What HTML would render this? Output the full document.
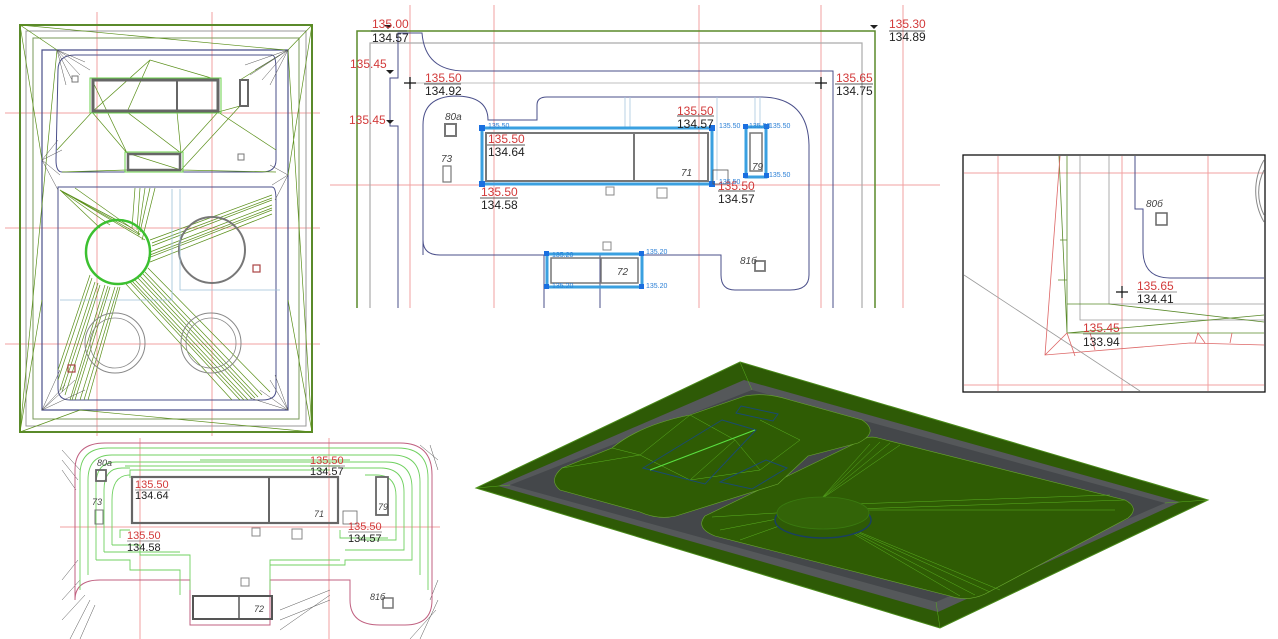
<!DOCTYPE html>
<html><head><meta charset="utf-8"><style>
html,body{margin:0;padding:0;background:#fff;width:1278px;height:639px;overflow:hidden}
svg{display:block}
text{font-family:"Liberation Sans",sans-serif}
.r{fill:#d23a3a}.k{fill:#222}.b{fill:#2a7fd6}
</style></head><body>
<svg width="1278" height="639" viewBox="0 0 1278 639" xmlns="http://www.w3.org/2000/svg">
<!-- ============ TOP LEFT PANEL ============ -->
<g fill="none">
 <g stroke="#f2a0a0" stroke-width="1">
  <line x1="97" y1="12" x2="97" y2="436"/><line x1="212" y1="12" x2="212" y2="436"/>
  <line x1="5" y1="113" x2="320" y2="113"/><line x1="5" y1="228" x2="320" y2="228"/><line x1="5" y1="344" x2="320" y2="344"/>
 </g>
 <rect x="20" y="25" width="292" height="407" stroke="#5a8a2a" stroke-width="2"/>
 <rect x="26" y="31" width="280" height="395" stroke="#999" stroke-width="1"/>
 <rect x="33" y="38" width="266" height="381" stroke="#7a9a5a" stroke-width="1"/>
 <path d="M42 50 H288 V410 H42 Z" stroke="#4a4f8a" stroke-width="1.2"/>
 <path d="M58 70 Q58 55 75 55 H272 Q276 55 276 70 V160 Q276 172 262 172 H62 Q56 172 56 160 Z" stroke="#4a4f8a" stroke-width="1"/>
 <path d="M58 187 H272 Q276 187 276 200 V390 Q276 400 262 400 H70 Q58 400 58 388 Z" stroke="#4a4f8a" stroke-width="1"/>
 <g stroke="#5a8f1a" stroke-width="0.7">
  <path d="M20 25 L57 50 L20 432 M312 25 L288 50 L312 432 M20 432 L80 410 L312 432 M20 25 L285 50 M20 25 L42 160 M312 25 L288 175 M20 432 L42 300 M312 432 L288 300"/>
  <path d="M57 150 L92 112 L127 153 L92 80 M127 153 L181 170 L240 106 L218 112 L181 153 L127 112 M92 112 L150 60 L218 80 M240 80 L280 55 M62 172 L127 170 M181 170 L276 172 M127 112 L150 60 M177 112 L181 153 M218 112 L276 150"/>
  <path d="M60 190 L140 235 M60 190 L145 240 M60 190 L132 228 M60 190 L120 222 M60 190 L110 225 M60 190 L100 228 M75 188 L140 234 M140 188 L137 230 M150 188 L140 232 M155 188 L142 240 M145 188 L138 236 M135 188 L132 228"/>
  <path d="M272 195 L150 240 M272 200 L152 246 M272 205 L150 252 M272 210 L148 258 M272 214 L150 262 M272 198 L152 243 M272 208 L150 255"/>
  <path d="M95 282 L60 390 M100 285 L65 395 M105 285 L70 400 M110 287 L75 400 M115 287 L80 400 M120 287 L88 400 M92 278 L58 380 M98 283 L62 392 M108 286 L72 400 M118 287 L84 400 M90 275 L58 370"/>
  <path d="M130 282 L240 400 M135 280 L248 400 M140 276 L255 398 M145 272 L262 395 M148 268 L270 392 M126 284 L232 400 M132 281 L244 400 M138 278 L252 399 M143 274 L258 397"/>
 </g>
 <g stroke="#555" stroke-width="0.5">
  <path d="M57 50 L80 75 M57 50 L90 70 M57 50 L85 62 M57 50 L72 80 M57 50 L66 85 M288 50 L250 75 M288 50 L255 70 M288 50 L262 80 M288 50 L270 85 M288 50 L245 65"/>
  <path d="M42 410 L75 380 M42 410 L65 385 M42 410 L85 390 M42 410 L60 370 M288 410 L270 380 M288 410 L260 390 M288 410 L275 375 M288 410 L250 398"/>
  <path d="M42 160 L62 150 M42 160 L60 175 M42 160 L58 190 M42 160 L58 140 M288 175 L270 165 M288 175 L272 185 M288 175 L275 200"/>
 </g>
 <rect x="93" y="80" width="125" height="31" stroke="#666" stroke-width="3"/>
 <line x1="177" y1="80" x2="177" y2="111" stroke="#666" stroke-width="2"/>
 <rect x="90" y="78" width="131" height="35" stroke="#6ad04a" stroke-width="1"/>
 <rect x="240" y="80" width="8" height="26" stroke="#666" stroke-width="2"/>
 <rect x="128" y="154" width="52" height="16" stroke="#666" stroke-width="2.5"/>
 <rect x="125" y="152" width="58" height="20" stroke="#6ad04a" stroke-width="1"/>
 <circle cx="118" cy="252" r="32" stroke="#3cc030" stroke-width="2.5"/>
 <circle cx="212" cy="250" r="33" stroke="#777" stroke-width="2"/>
 <circle cx="115" cy="343" r="30" stroke="#888" stroke-width="1"/><circle cx="115" cy="343" r="25" stroke="#888" stroke-width="0.8"/>
 <circle cx="211" cy="343" r="30" stroke="#888" stroke-width="1"/><circle cx="211" cy="343" r="25" stroke="#888" stroke-width="0.8"/>
 <path d="M172 189 V300 H60 M180 189 V290 H280" stroke="#9cc0d8" stroke-width="0.8"/>
 <rect x="253" y="265" width="7" height="7" stroke="#a44" stroke-width="1.2"/>
 <rect x="68" y="365" width="7" height="7" stroke="#a44" stroke-width="1.2"/>
 <rect x="72" y="76" width="6" height="6" stroke="#777"/><rect x="238" y="154" width="6" height="6" stroke="#777"/>
</g>
<!-- ============ TOP MIDDLE PANEL ============ -->
<g fill="none">
 <g stroke="#f2a0a0" stroke-width="1">
  <line x1="410" y1="5" x2="410" y2="308"/><line x1="494" y1="5" x2="494" y2="308"/><line x1="699" y1="5" x2="699" y2="308"/><line x1="821" y1="5" x2="821" y2="308"/><line x1="903" y1="5" x2="903" y2="308"/>
  <line x1="330" y1="185" x2="940" y2="185"/>
 </g>
 <path d="M357 308 V31 H875 V308" stroke="#5a8a2a" stroke-width="1.5"/>
 <path d="M370 308 V43 H862 V308" stroke="#aaa" stroke-width="1.2"/>
 <line x1="410" y1="83" x2="821" y2="83" stroke="#aaa" stroke-width="0.8"/>
 <path d="M398 308 V126 H390 V78 H398 V33 H422 Q425 71 465 71 H833 V308" stroke="#4a4f8a" stroke-width="1"/>
 <path d="M423 255 V125 Q423 97 455 96 Q488 96 488 120 H537 V105 Q537 97 547 97 H760 Q808 97 809 145 V275 Q809 290 790 290 H735 Q721 290 721 275 V255 H600 V308 M544 308 V255 H440 Q423 255 423 240" stroke="#4a4f8a" stroke-width="1"/>
 <g stroke="#a8c8e0" stroke-width="0.8"><path d="M625 97 V128 M630 97 V128 M717 97 V180 M755 97 V128 M760 97 V128"/></g>
 <rect x="482" y="128" width="230" height="56" stroke="#3aa0e0" stroke-width="3"/>
 <rect x="486" y="133" width="222" height="48" stroke="#777" stroke-width="2"/>
 <line x1="634" y1="133" x2="634" y2="181" stroke="#777" stroke-width="2"/>
 <rect x="746" y="127" width="20" height="50" stroke="#3aa0e0" stroke-width="3"/>
 <rect x="750" y="133" width="12" height="38" stroke="#777" stroke-width="1.5"/>
 <rect x="547" y="254" width="95" height="33" stroke="#3aa0e0" stroke-width="3"/>
 <rect x="551" y="258" width="87" height="25" stroke="#777" stroke-width="1.5"/>
 <line x1="601" y1="258" x2="601" y2="283" stroke="#777" stroke-width="1.5"/>
 <g fill="#1a6fe0" stroke="none">
  <rect x="479" y="125" width="6" height="6"/><rect x="709" y="125" width="6" height="6"/><rect x="479" y="181" width="6" height="6"/><rect x="709" y="181" width="6" height="6"/>
  <rect x="743" y="124" width="5" height="5"/><rect x="764" y="124" width="5" height="5"/><rect x="743" y="173" width="5" height="5"/><rect x="764" y="173" width="5" height="5"/>
  <rect x="544" y="251" width="5" height="5"/><rect x="639" y="251" width="5" height="5"/><rect x="544" y="284" width="5" height="5"/><rect x="639" y="284" width="5" height="5"/>
 </g>
 <rect x="445" y="124" width="11" height="12" stroke="#777" stroke-width="2"/>
 <rect x="443" y="166" width="8" height="16" stroke="#777" stroke-width="1.2"/>
 <rect x="755" y="261" width="10" height="10" stroke="#777" stroke-width="1.8"/>
 <rect x="713" y="170" width="15" height="14" stroke="#555" stroke-width="0.8"/>
 <rect x="606" y="187" width="8" height="8" stroke="#888"/><rect x="657" y="188" width="10" height="10" stroke="#888"/><rect x="603" y="242" width="8" height="8" stroke="#888"/>
 <path d="M384 25 l4 4 l4 -4 Z M386 120 l4 4 l4 -4 Z M386 70 l4 4 l4 -4 Z M870 25 l4 4 l4 -4 Z" fill="#222" stroke="none"/>
 <path d="M404 83 h12 M410 77 v12 M815 83 h12 M821 77 v12" stroke="#111" stroke-width="1.3"/>
 <g stroke="#222" stroke-width="0.8">
  <line x1="371" y1="31" x2="407" y2="31"/><line x1="889" y1="31" x2="925" y2="31"/><line x1="424" y1="84" x2="461" y2="84"/><line x1="835" y1="84" x2="873" y2="84"/>
  <line x1="677" y1="116" x2="714" y2="116"/><line x1="487" y1="145" x2="525" y2="145"/><line x1="480" y1="198" x2="518" y2="198"/><line x1="718" y1="191" x2="755" y2="191"/>
 </g>
</g>
<g font-size="12">
 <text x="372" y="28" class="r">135.00</text><text x="372" y="42" class="k">134.57</text>
 <text x="889" y="28" class="r">135.30</text><text x="889" y="41" class="k">134.89</text>
 <text x="350" y="68" class="r">135.45</text><text x="349" y="124" class="r">135.45</text>
 <text x="425" y="82" class="r">135.50</text><text x="425" y="95" class="k">134.92</text>
 <text x="836" y="82" class="r">135.65</text><text x="836" y="95" class="k">134.75</text>
 <text x="677" y="115" class="r">135.50</text><text x="677" y="128" class="k">134.57</text>
 <text x="488" y="143" class="r">135.50</text><text x="488" y="156" class="k">134.64</text>
 <text x="481" y="196" class="r">135.50</text><text x="481" y="209" class="k">134.58</text>
 <text x="718" y="190" class="r">135.50</text><text x="718" y="203" class="k">134.57</text>
</g>
<g font-size="7" class="b">
 <text x="488" y="128">135.50</text><text x="719" y="128">135.50</text><text x="749" y="128">135.50</text><text x="769" y="128">135.50</text><text x="769" y="177">135.50</text><text x="719" y="184">135.50</text>
 <text x="552" y="257">135.20</text><text x="646" y="254">135.20</text><text x="646" y="288">135.20</text><text x="552" y="288">135.20</text>
</g>
<g font-size="10" font-style="italic" fill="#444">
 <text x="445" y="120">80a</text><text x="441" y="162">73</text><text x="681" y="176">71</text><text x="752" y="170">79</text><text x="617" y="275">72</text><text x="740" y="264">81б</text>
</g>
<!-- ============ RIGHT INSET ============ -->
<rect x="963" y="155" width="302" height="237" fill="#fff" stroke="#111" stroke-width="1.3"/>
<g fill="none">
 <g stroke="#f2a0a0" stroke-width="1"><line x1="998" y1="156" x2="998" y2="391"/><line x1="1122" y1="156" x2="1122" y2="391"/><line x1="1208" y1="156" x2="1208" y2="391"/><line x1="964" y1="173" x2="1264" y2="173"/><line x1="964" y1="385" x2="1264" y2="385"/></g>
 <path d="M1264 160 A62 62 0 0 0 1264 222 M1264 170 A50 50 0 0 0 1264 215" stroke="#888"/>
 <line x1="964" y1="275" x2="1140" y2="391" stroke="#999" stroke-width="0.8"/>
 <path d="M1135 156 V209 H1143 V250 Q1143 278 1170 278 H1264" stroke="#4a4f8a" stroke-width="1"/>
 <path d="M1109 156 V304 H1264 M1080 156 V320 H1264" stroke="#999" stroke-width="0.8"/>
 <path d="M1067 156 V333 H1264 M1059 156 L1067 333 M1060 240 H1067 M1058 280 H1067 M1067 304 L1109 304 L1264 322 M1067 333 L1264 315" stroke="#5a8a2a" stroke-width="0.8"/>
 <path d="M1060 156 L1045 355 L1190 343 L1264 345 M1045 355 L1067 333 L1075 356 M1095 350 L1090 333 M1195 343 L1198 333 L1205 343 M1230 343 L1232 333" stroke="#d66" stroke-width="0.8"/>
 <rect x="1156" y="213" width="11" height="12" stroke="#666" stroke-width="1.5"/>
 <path d="M1116 292 h12 M1122 286 v12" stroke="#111" stroke-width="1.2"/>
 <line x1="1137" y1="292" x2="1177" y2="292" stroke="#333" stroke-width="0.6"/>
 <line x1="1083" y1="334" x2="1120" y2="334" stroke="#333" stroke-width="0.6"/>
</g>
<g font-size="12"><text x="1137" y="290" class="r">135.65</text><text x="1137" y="303" class="k">134.41</text><text x="1083" y="332" class="r">135.45</text><text x="1083" y="346" class="k">133.94</text></g>
<text x="1146" y="207" font-size="10" font-style="italic" fill="#444">80б</text>
<!-- ============ BOTTOM LEFT PANEL ============ -->
<g fill="none">
 <g stroke="#f2a0a0"><line x1="140" y1="438" x2="140" y2="639"/><line x1="329" y1="438" x2="329" y2="639"/><line x1="60" y1="527" x2="440" y2="527"/></g>
 <g stroke="#555" stroke-width="0.5">
  <path d="M62 450 L80 470 M62 460 L78 480 M62 470 L76 490 M62 580 L78 560 M62 600 L80 580 M62 620 L85 595 M70 639 L90 600 M80 639 L95 605 M420 445 L438 460 M430 445 L438 470 M430 600 L438 580 M420 639 L438 600 M410 639 L436 610 M330 600 L280 620 M330 595 L280 630 M330 590 L280 610"/>
 </g>
 <path d="M75 600 V470 Q75 443 105 443 H400 Q432 443 432 475 V600 Q432 625 405 625 H380 Q350 625 350 600 V580 H270 V625 H190 V580 H100 Q75 580 75 600" stroke="#c06080" stroke-width="1"/>
 <g stroke="#70d060" stroke-width="0.9">
  <path d="M80 590 V475 Q80 448 108 448 H398 Q428 448 428 478 V590"/>
  <path d="M88 575 V480 Q88 455 112 455 H392 Q420 455 420 482 V575"/>
  <path d="M96 560 V485 Q96 462 116 462 H386 Q412 462 412 488 V560 H345 V565 H270"/>
  <path d="M104 552 V490 Q104 468 122 468 H130 M340 468 H380 Q404 468 404 492 V550 H345"/>
  <path d="M112 545 V500 Q112 475 130 475 M365 475 H376 Q396 475 396 496 V540 H360"/>
  <path d="M120 538 V530 H130 M340 530 V538 H388"/>
  <path d="M96 560 H130 V570 H180 V595 M112 545 H140 V555 H190 V590 M270 590 V560 H340 M104 552 H180"/>
  <path d="M130 478 V470 H330 M125 466 H340 M200 460 H350"/>
 </g>
 <rect x="132" y="477" width="206" height="46" stroke="#666" stroke-width="2.2"/>
 <line x1="269" y1="477" x2="269" y2="523" stroke="#666" stroke-width="2"/>
 <rect x="376" y="477" width="12" height="38" stroke="#666" stroke-width="1.8"/>
 <rect x="193" y="596" width="79" height="23" stroke="#555" stroke-width="2"/>
 <line x1="239" y1="596" x2="239" y2="619" stroke="#555" stroke-width="1.5"/>
 <rect x="96" y="470" width="10" height="11" stroke="#666" stroke-width="1.8"/>
 <rect x="95" y="510" width="8" height="14" stroke="#777"/>
 <rect x="383" y="598" width="10" height="10" stroke="#777" stroke-width="1.5"/>
 <rect x="241" y="578" width="8" height="8" stroke="#888"/><rect x="252" y="528" width="8" height="8" stroke="#888"/><rect x="292" y="529" width="10" height="10" stroke="#888"/>
 <rect x="343" y="511" width="14" height="13" stroke="#666" stroke-width="0.8"/>
 <g stroke="#333" stroke-width="0.6"><line x1="310" y1="466" x2="345" y2="466"/><line x1="135" y1="490" x2="170" y2="490"/><line x1="127" y1="541" x2="160" y2="541"/><line x1="348" y1="532" x2="382" y2="532"/></g>
</g>
<g font-size="11">
 <text x="310" y="464" class="r">135.50</text><text x="310" y="475" class="k">134.57</text>
 <text x="135" y="488" class="r">135.50</text><text x="135" y="499" class="k">134.64</text>
 <text x="127" y="539" class="r">135.50</text><text x="127" y="551" class="k">134.58</text>
 <text x="348" y="530" class="r">135.50</text><text x="348" y="542" class="k">134.57</text>
</g>
<g font-size="9" font-style="italic" fill="#444"><text x="97" y="466">80a</text><text x="92" y="505">73</text><text x="314" y="517">71</text><text x="378" y="510">79</text><text x="254" y="612">72</text><text x="370" y="600">81б</text></g>
<!-- ============ 3D VIEW ============ -->
<g>
 <polygon points="740,362 1208,500 940,628 476,488" fill="#2e5a06" stroke="#4a8a1a" stroke-width="1"/>
 <polygon points="744,380 1180,502 938,612 498,486" fill="#55585a"/>
 <polygon points="752,390 1165,503 936,602 510,485" fill="#44474a"/>
 <path d="M878 438 L1125 500 Q1140 508 1128 518 L985 594 Q968 602 950 596 L715 536 Q695 528 705 516 L858 442 Q868 435 878 438 Z" fill="#2f5c04" stroke="#6aa830" stroke-width="0.6"/>
 <path d="M745 396 Q765 392 790 400 L862 420 Q880 432 858 443 L808 456 L778 484 L676 516 Q658 520 640 512 L560 490 Q548 480 562 468 L612 448 Q640 425 690 415 Z" fill="#2f5c04" stroke="#6aa830" stroke-width="0.6"/>
 <g stroke="#5ab020" stroke-width="0.5" fill="none">
  <path d="M824 510 L712 517 M824 510 L720 530 M824 510 L740 540 M824 510 L1125 500 M824 510 L1115 510 M824 505 L1110 495 M830 520 L1000 590 M830 520 L975 595 M830 520 L960 596 M830 520 L990 592 M820 500 L880 442 M820 500 L900 445 M820 500 L870 444 M820 500 L890 443"/>
  <path d="M740 362 L752 390 M1208 500 L1165 503 M940 628 L936 602 M476 488 L510 485"/>
  <path d="M690 415 L735 440 L690 480 L640 455 L690 415 M760 420 L800 440 L760 470 M735 440 L760 470 L690 480 M612 448 L640 455 L562 468"/>
 </g>
 <ellipse cx="823" cy="520" rx="48" ry="18" fill="#2e5a06" stroke="#1a3f60" stroke-width="1.5"/>
 <ellipse cx="823" cy="513" rx="46" ry="16" fill="#336408" stroke="#3a7a10" stroke-width="0.8"/>
 <g fill="none" stroke="#1a4a70" stroke-width="1">
  <polygon points="741,406 778,414 773,421 736,413"/>
  <polygon points="722,420 756,430 705,484 643,468"/>
  <polygon points="766,460 787,468 752,489 720,482"/>
 </g>
 <line x1="650" y1="470" x2="755" y2="430" stroke="#5ae040" stroke-width="1.2"/>
</g>
</svg>
</body></html>
